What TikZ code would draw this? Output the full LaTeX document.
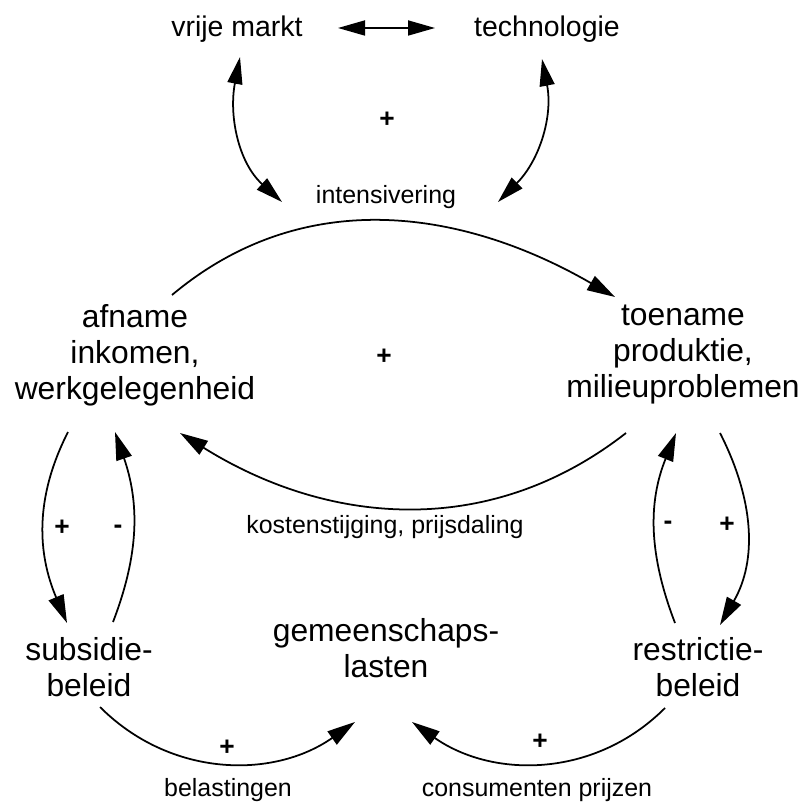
\documentclass[tikz,border=0pt]{standalone}
\usepackage{fontspec}
\setmainfont{Liberation Sans}
\usepackage{tikz}
\usetikzlibrary{arrows.meta, positioning, calc}
\tikzset{
  groot/.style={align=center,font=\fontsize{18.1}{20.5}\selectfont,inner sep=1pt},
  kop/.style={font=\fontsize{16.2}{19}\selectfont,inner sep=1pt},
  klein/.style={font=\fontsize{14.2}{17}\selectfont,inner sep=1pt},
  teken/.style={font=\fontsize{15}{17}\selectfont\bfseries,inner sep=1pt},
  pijl/.style={-{Triangle[length=0.56cm,width=0.32cm]},line width=1pt},
  dubbelpijl/.style={{Triangle[length=0.54cm,width=0.3cm]}-{Triangle[length=0.54cm,width=0.3cm]},line width=1pt}
}

\begin{document}
\begin{tikzpicture}[x=0.02cm,y=-0.02cm]
  \useasboundingbox (0,0) rectangle (803,803);

  % bovenste lus
  \node[kop] (markt) at (237,29) {vrije markt};
  \node[kop] (techn) at (547,29) {technologie};
  \node[klein] (intens) at (386,197) {intensivering};
  \node[teken] (plusa) at (387,120) {+};

  % grote knopen
  \node[groot] (afname) at (135,355) {afname\\inkomen,\\werkgelegenheid};
  \node[groot] (toename) at (683,355) {toename\\produktie,\\milieuproblemen};
  \node[teken] (plusb) at (384,357) {+};
  \node[klein] (kosten) at (385,527) {kostenstijging, prijsdaling};

  \node[groot] (subs) at (89,667) {subsidie-\\beleid};
  \node[groot] (restr) at (698,667) {restrictie-\\beleid};
  \node[groot] (gemeen) at (386,648) {gemeenschaps-\\lasten};

  % tekens bij de zijlussen
  \node[teken] (plusc) at (62,528) {+};
  \node[teken] (minc) at (118,529) {-};
  \node[teken] (mind) at (668,525) {-};
  \node[teken] (plusd) at (727,525) {+};
  \node[teken] (pluse) at (227,748) {+};
  \node[teken] (plusf) at (540,742) {+};
  \node[klein] (belast) at (228,790) {belastingen};
  \node[klein] (consum) at (537,790) {consumenten prijzen};

  % verbindingen boven
  \draw[dubbelpijl] ($(markt)+(101,-1)$) -- ($(techn)+(-112,-1)$);
  \draw[dubbelpijl] ($(markt)+(3,28)$) to[out=-101,in=138] ($(intens)+(-104,5)$);
  \draw[dubbelpijl] ($(techn)+(-5,30)$) to[out=-79,in=45] ($(intens)+(112,5)$);

  % middelste lus
  \draw[pijl] ($(afname)+(37,-60)$) to[out=40,in=150] ($(toename)+(-68,-58)$);
  \draw[pijl] ($(toename)+(-57,78)$) to[out=-142,in=-32] ($(afname)+(45,78)$);

  % zijlussen
  \draw[pijl] ($(afname)+(-67,77)$) to[out=-117,in=113] ($(subs)+(-22,-44)$);
  \draw[pijl] ($(subs)+(24,-45)$) to[out=69,in=-71] ($(afname)+(-20,77)$);
  \draw[pijl] ($(restr)+(-23,-44)$) to[out=111,in=-112] ($(toename)+(-7,78)$);
  \draw[pijl] ($(toename)+(37,78)$) to[out=-63,in=60] ($(restr)+(22,-42)$);

  % onderste lus
  \draw[pijl] ($(subs)+(11,40)$) to[out=-45,in=-145] ($(gemeen)+(-31,74)$);
  \draw[pijl] ($(restr)+(-33,41)$) to[out=-135,in=-35] ($(gemeen)+(26,74)$);
\end{tikzpicture}
\end{document}
